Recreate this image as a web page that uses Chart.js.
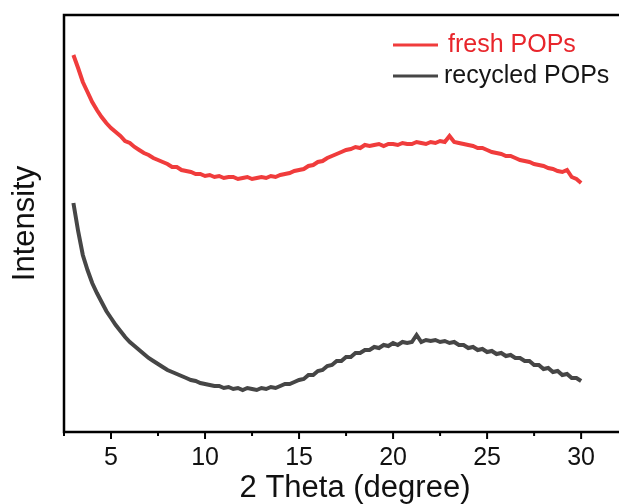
<!DOCTYPE html>
<html>
<head>
<meta charset="utf-8">
<script src="https://cdn.jsdelivr.net/npm/chart.js@4.4.1/dist/chart.umd.min.js"></script>
<style>
  html, body { margin: 0; padding: 0; background: #fff; overflow: hidden; }
  /* the plot frame runs past the right edge of the window, as in the cropped original */
  #wrap { width: 646px; height: 504px; }
</style>
</head>
<body>
<div id="wrap"><canvas id="xrd-chart"></canvas></div>
<script>
// 2 theta values (degree)
const twoTheta = [
  3, 3.25, 3.5, 3.75, 4, 4.25, 4.5, 4.75, 5, 5.25, 5.5, 5.75, 6, 6.25, 6.5, 6.75,
  7, 7.25, 7.5, 7.75, 8, 8.25, 8.5, 8.75, 9, 9.25, 9.5, 9.75, 10, 10.25, 10.5, 10.75,
  11, 11.25, 11.5, 11.75, 12, 12.25, 12.5, 12.75, 13, 13.25, 13.5, 13.75, 14, 14.25, 14.5, 14.75,
  15, 15.25, 15.5, 15.75, 16, 16.25, 16.5, 16.75, 17, 17.25, 17.5, 17.75, 18, 18.25, 18.5, 18.75,
  19, 19.25, 19.5, 19.75, 20, 20.25, 20.5, 20.75, 21, 21.25, 21.5, 21.75, 22, 22.25, 22.5, 22.75,
  23, 23.25, 23.5, 23.75, 24, 24.25, 24.5, 24.75, 25, 25.25, 25.5, 25.75, 26, 26.25, 26.5, 26.75,
  27, 27.25, 27.5, 27.75, 28, 28.25, 28.5, 28.75, 29, 29.25, 29.5, 29.75, 30
];
// intensity, arbitrary units (curves are stacked)
const freshPOPs = [
  377, 364, 350, 340, 330, 322, 315, 309, 304, 300,
  296, 291, 289, 285, 282, 279, 277, 274, 272, 270,
  268, 265, 265, 262, 261, 260, 258, 258, 256, 257,
  255, 256, 254, 255, 255, 253, 254, 255, 253, 254,
  255, 254, 256, 255, 257, 258, 259, 261, 262, 263,
  266, 267, 270, 271, 274, 276, 278, 280, 282, 283,
  285, 284, 287, 286, 287, 288, 286, 288, 288, 287,
  289, 288, 288, 290, 289, 288, 290, 289, 291, 290,
  296, 290, 289, 288, 287, 286, 284, 284, 282, 280,
  279, 278, 276, 276, 274, 272, 271, 270, 268, 267,
  266, 264, 263, 261, 260, 262, 255, 253, 249
];
const recycledPOPs = [
  229, 201, 177, 162, 149, 139, 130, 121, 114, 107,
  101, 95, 90, 86, 82, 78, 74, 71, 68, 65,
  62, 60, 58, 56, 54, 52, 51, 49, 48, 47,
  46, 46, 44, 45, 43, 44, 42, 44, 43, 42,
  44, 43, 45, 44, 46, 48, 48, 50, 52, 53,
  57, 57, 61, 62, 66, 67, 71, 71, 75, 75,
  79, 79, 82, 82, 85, 84, 87, 86, 89, 87,
  90, 89, 90, 97, 90, 92, 91, 92, 90, 91,
  89, 90, 87, 87, 84, 85, 82, 83, 80, 81,
  78, 79, 76, 77, 74, 74, 71, 71, 67, 67,
  63, 64, 60, 61, 57, 58, 54, 54, 51
];
const majorTicks = [5, 10, 15, 20, 25, 30];
const minorTicks = [2.5, 7.5, 12.5, 17.5, 22.5, 27.5, 32.5];
const seriesNames = ['fresh POPs', 'recycled POPs'];
const seriesColors = ['#f03c3c', '#464646'];
const legendTextColors = ['#e8252b', '#151515'];

const FONT = '"Liberation Sans", Arial, sans-serif';

// frame, outward x ticks and the legend inside the plot
const decorations = {
  id: 'decorations',
  afterDraw(chart) {
    const { ctx, chartArea: a, scales } = chart;
    ctx.save();
    ctx.strokeStyle = '#000';
    ctx.lineWidth = 2.5;
    ctx.strokeRect(a.left, a.top, a.right - a.left, a.bottom - a.top);

    ctx.lineWidth = 2;
    majorTicks.concat(minorTicks).forEach(v => {
      const x = scales.x.getPixelForValue(v);
      const len = majorTicks.includes(v) ? 7 : 4;
      ctx.beginPath();
      ctx.moveTo(x, a.bottom);
      ctx.lineTo(x, a.bottom + len);
      ctx.stroke();
    });

    ctx.font = '25px ' + FONT;
    ctx.textBaseline = 'middle';
    chart.data.datasets.forEach((ds, i) => {
      const y = 45 + i * 31;
      ctx.strokeStyle = ds.borderColor;
      ctx.lineWidth = 3;
      ctx.beginPath();
      ctx.moveTo(393, y);
      ctx.lineTo(438, y);
      ctx.stroke();
      ctx.fillStyle = legendTextColors[i];
      ctx.fillText(ds.label, i === 0 ? 448 : 444, y);
    });
    ctx.restore();
  }
};

const ctx = document.getElementById('xrd-chart').getContext('2d');
new Chart(ctx, {
  type: 'line',
  data: {
    datasets: [
      {
        label: seriesNames[0],
        data: twoTheta.map((t, i) => ({ x: t, y: freshPOPs[i] })),
        borderColor: seriesColors[0],
      },
      {
        label: seriesNames[1],
        data: twoTheta.map((t, i) => ({ x: t, y: recycledPOPs[i] })),
        borderColor: seriesColors[1],
      }
    ]
  },
  options: {
    responsive: true,
    maintainAspectRatio: false,
    animation: false,
    layout: { padding: { top: 15, right: 0, bottom: 0, left: 0 } },
    elements: {
      point: { radius: 0 },
      line: { borderWidth: 4, tension: 0 }
    },
    plugins: {
      legend: { display: false },
      tooltip: { enabled: false }
    },
    scales: {
      x: {
        type: 'linear',
        min: 2.5,
        max: 33.45,
        grid: { display: false, drawTicks: false },
        border: { display: false },
        afterBuildTicks: scale => {
          scale.ticks = majorTicks.map(v => ({ value: v }));
        },
        ticks: {
          padding: 11,
          color: '#111',
          autoSkip: false,
          maxRotation: 0,
          font: { family: FONT, size: 25 },
          callback: v => v
        },
        title: {
          display: true,
          text: '2 Theta (degree)',
          color: '#111',
          padding: 0,
          font: { family: FONT, size: 31, lineHeight: 1 }
        },
        afterFit: scale => { scale.height = 72; }
      },
      y: {
        min: 0,
        max: 417,
        grid: { display: false },
        border: { display: false },
        ticks: { display: false },
        title: {
          display: true,
          text: 'Intensity',
          color: '#111',
          padding: { top: 10, bottom: 0 },
          font: { family: FONT, size: 31, lineHeight: 1 }
        },
        afterFit: scale => { scale.width = 64; }
      }
    }
  },
  plugins: [decorations]
});
</script>
</body>
</html>
